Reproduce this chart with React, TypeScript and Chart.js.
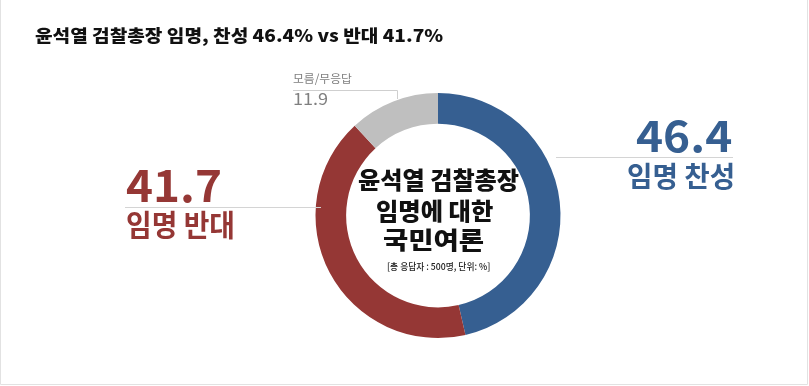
import React, { useEffect, useRef } from "react";
import { Chart, registerables } from "chart.js";

Chart.register(...registerables);

const categories = ["임명 찬성", "임명 반대", "모름/무응답"];
const values = [46.4, 41.7, 11.9];
const colors = ["#365f91", "#953735", "#bfbfbf"];
const titleText = "윤석열 검찰총장 임명, 찬성 46.4% vs 반대 41.7%";
const centerLines = ["윤석열 검찰총장", "임명에 대한", "국민여론"];
const noteText = "[총 응답자 : 500명, 단위: %]";

const KR = '"Noto Sans CJK KR", "Noto Sans", sans-serif';

// draw text so its glyph box fills [x0,x1] x [yTop,yBottom]
function drawBox(
  ctx: CanvasRenderingContext2D,
  text: string,
  x0: number,
  x1: number,
  yTop: number,
  yBottom: number,
  weight: string,
  color: string,
  family: string = KR
) {
  ctx.save();
  ctx.textBaseline = "alphabetic";
  ctx.textAlign = "left";
  const ref = 100;
  ctx.font = `${weight} ${ref}px ${family}`;
  let m = ctx.measureText(text);
  const h = m.actualBoundingBoxAscent + m.actualBoundingBoxDescent;
  const size = (ref * (yBottom - yTop)) / h;
  ctx.font = `${weight} ${size}px ${family}`;
  m = ctx.measureText(text);
  const w = m.actualBoundingBoxLeft + m.actualBoundingBoxRight;
  const sx = (x1 - x0) / w;
  ctx.translate(x0, yTop + m.actualBoundingBoxAscent);
  ctx.scale(sx, 1);
  ctx.fillStyle = color;
  ctx.fillText(text, m.actualBoundingBoxLeft, 0);
  ctx.restore();
}

function line(ctx: CanvasRenderingContext2D, pts: number[][], color: string) {
  ctx.save();
  ctx.strokeStyle = color;
  ctx.lineWidth = 1;
  ctx.beginPath();
  pts.forEach((p, i) => (i === 0 ? ctx.moveTo(p[0], p[1]) : ctx.lineTo(p[0], p[1])));
  ctx.stroke();
  ctx.restore();
}

const annotations = {
  id: "annotations",
  afterDraw(chart: any) {
    const ctx: CanvasRenderingContext2D = chart.ctx;
    const W = chart.width;
    const H = chart.height;
    // frame
    line(ctx, [[0.5, 0], [0.5, H - 1.5], [W - 1.5, H - 1.5], [W - 1.5, 0]], "#e2e2e2");

    // title
    drawBox(ctx, titleText, 35, 443, 27, 46, "900", "#111111");

    // center text
    drawBox(ctx, centerLines[0], 358, 519, 168, 191, "900", "#111111");
    drawBox(ctx, centerLines[1], 377, 493, 199, 222, "900", "#111111");
    drawBox(ctx, centerLines[2], 383, 484, 228, 251, "900", "#111111");
    drawBox(ctx, noteText, 387, 490, 261, 271, "500", "#222222");

    // right label (찬성)
    line(ctx, [[556, 157.5], [733, 157.5]], "#d4d4d4");
    drawBox(ctx, values[0].toFixed(1), 636, 731, 120, 152, "700", colors[0]);
    drawBox(ctx, categories[0], 628, 733, 162, 189, "700", colors[0]);

    // left label (반대)
    line(ctx, [[125, 207.5], [321, 207.5]], "#d4d4d4");
    drawBox(ctx, values[1].toFixed(1), 126, 220, 170, 202, "700", colors[1]);
    drawBox(ctx, categories[1], 127, 233, 210, 238, "700", colors[1]);

    // top label (모름)
    line(ctx, [[293, 90.5], [397.5, 90.5], [397.5, 99]], "#cfcfcf");
    drawBox(ctx, categories[2], 293, 352, 73, 85, "400", "#7f7f7f");
    drawBox(ctx, values[2].toFixed(1), 294, 328, 93, 105, "400", "#7f7f7f");
  },
};

export default function App() {
  const ref = useRef<HTMLCanvasElement | null>(null);
  useEffect(() => {
    if (!ref.current) return;
    const chart = new Chart(ref.current, {
      type: "doughnut",
      data: {
        labels: categories,
        datasets: [
          {
            data: values,
            backgroundColor: colors,
            borderWidth: 0,
          },
        ],
      },
      options: {
        responsive: false,
        animation: false,
        cutout: "75%",
        rotation: 0,
        layout: { padding: { left: 315.5, right: 248.5, top: 93, bottom: 48 } },
        plugins: {
          legend: { display: false },
          tooltip: { enabled: false },
          title: { display: false },
        },
      },
      plugins: [annotations],
    });
    return () => chart.destroy();
  }, []);
  return (
    <div style={{ position: "fixed", left: 0, top: 0, width: 809, height: 386, background: "#ffffff" }}>
      <canvas ref={ref} width={809} height={386} style={{ display: "block", width: 809, height: 386 }} />
    </div>
  );
}
